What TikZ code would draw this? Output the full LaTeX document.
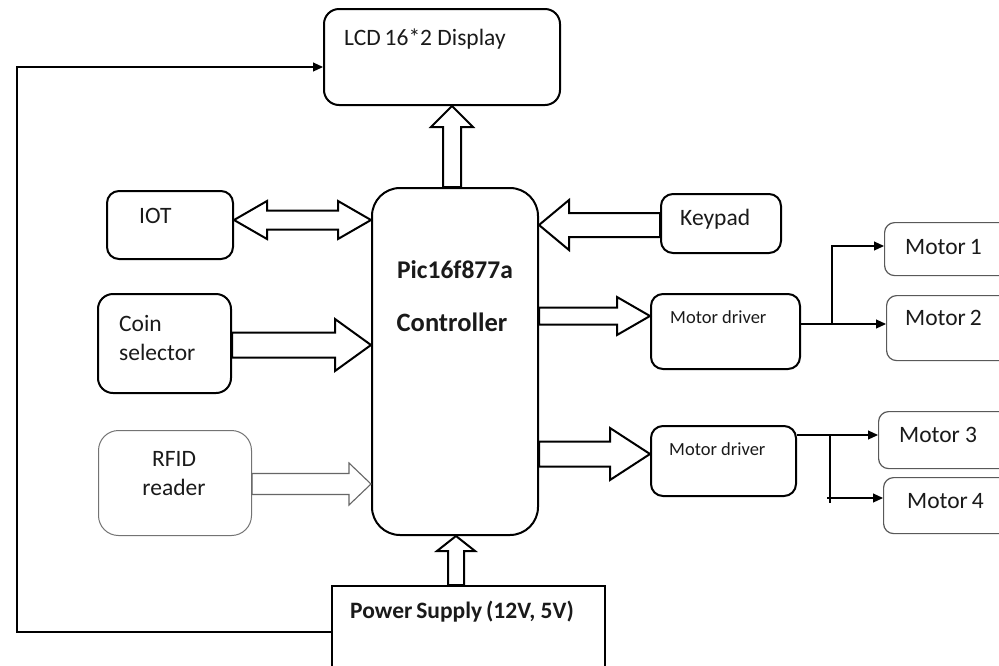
\documentclass[tikz,border=0pt]{standalone}
\usepackage{fontspec}
\setmainfont{Carlito}
\usetikzlibrary{calc,arrows.meta}
\definecolor{txt}{HTML}{1A1A1A}
\tikzset{
  box/.style={draw=black,line width=2pt,rounded corners=#1,inner sep=0pt,anchor=north west},
  box/.default=12pt,
  thinbox/.style={draw=black!65,line width=1.2pt,rounded corners=10pt,inner sep=0pt,anchor=north west},
  rfidbox/.style={draw=black!55,line width=1pt,rounded corners=20pt,inner sep=0pt,anchor=north west},
  lbl/.style={text=txt,inner sep=0pt,font=\fontsize{23.5}{29}\selectfont},
  blbl/.style={text=txt,inner sep=0pt,font=\fontsize{25.5}{29}\selectfont\bfseries},
  slbl/.style={text=txt,inner sep=0pt,font=\fontsize{18.5}{22}\selectfont},
  barrow/.style={draw=black,line width=2pt,line join=miter},
  wire/.style={draw=black,line width=1.1pt},
  wtip/.style={-{Triangle[length=10pt,width=9pt]}}
}
% single block arrow: [style]{start}{end}{shaft half width}{head half width}{head length}
\newcommand\blockarr[6][]{%
  \coordinate (ba-s) at (#2);
  \coordinate (ba-e) at (#3);
  \coordinate (ba-h) at ($(ba-e)!#6!(ba-s)$);
  \draw[barrow,#1] ($(ba-s)!#4!90:(ba-e)$) -- ($(ba-h)!#4!90:(ba-e)$) -- ($(ba-h)!#5!90:(ba-e)$)
    -- (ba-e) -- ($(ba-h)!#5!-90:(ba-e)$) -- ($(ba-h)!#4!-90:(ba-e)$) -- ($(ba-s)!#4!-90:(ba-e)$) -- cycle;
}
% double block arrow
\newcommand\dblockarr[6][]{%
  \coordinate (ba-s) at (#2);
  \coordinate (ba-e) at (#3);
  \coordinate (ba-hs) at ($(ba-s)!#6!(ba-e)$);
  \coordinate (ba-he) at ($(ba-e)!#6!(ba-s)$);
  \draw[barrow,#1] (ba-s) -- ($(ba-hs)!#5!90:(ba-e)$) -- ($(ba-hs)!#4!90:(ba-e)$) -- ($(ba-he)!#4!90:(ba-e)$)
    -- ($(ba-he)!#5!90:(ba-e)$) -- (ba-e) -- ($(ba-he)!#5!-90:(ba-e)$) -- ($(ba-he)!#4!-90:(ba-e)$)
    -- ($(ba-hs)!#4!-90:(ba-e)$) -- ($(ba-hs)!#5!-90:(ba-e)$) -- cycle;
}
\begin{document}
\begin{tikzpicture}[x=1pt,y=-1pt]
\useasboundingbox[fill=white] (0,0) rectangle (999,665);
\clip (0,0) rectangle (999,665);

% boxes
\node[box=15pt,minimum width=236pt,minimum height=96pt] (lcd) at (323,8) {};
\node[box=28pt,minimum width=166pt,minimum height=347pt] (ctrl) at (371,187) {};
\node[box=12pt,minimum width=126pt,minimum height=68pt] (iot) at (106,190) {};
\node[box=12pt,minimum width=120pt,minimum height=59pt] (keypad) at (660,193) {};
\node[box=15pt,minimum width=133pt,minimum height=99pt] (coin) at (97,293) {};
\node[rfidbox,minimum width=153pt,minimum height=105pt] (rfid) at (98,430) {};
\node[box=12pt,minimum width=149pt,minimum height=75pt] (md1) at (650,293) {};
\node[box=12pt,minimum width=145pt,minimum height=70pt] (md2) at (650,425) {};
\node[thinbox,minimum width=130pt,minimum height=53pt] (m1) at (884,222) {};
\node[thinbox,minimum width=130pt,minimum height=65pt] (m2) at (886,295) {};
\node[thinbox,minimum width=135pt,minimum height=57pt] (m3) at (878,411) {};
\node[thinbox,minimum width=130pt,minimum height=56pt] (m4) at (883,477) {};
\node[draw=black,line width=2pt,inner sep=0pt,anchor=north west,minimum width=273pt,minimum height=100pt] (ps) at (331,585) {};

% texts
\node[lbl,anchor=west] (lcdt) at (344,39) {LCD\,16*2 Display};
\node[lbl,anchor=west] (iott) at (139,216) {IOT};
\node[lbl,anchor=west] (keyt) at (680,219) {Keypad};
\node[lbl,anchor=west,align=left] (coint) at (119,337.5) {Coin\\selector};
\node[lbl,align=center] (rfidt) at (174,474) {RFID\\reader};
\node[blbl] (ctrlt1) at (455,270) {Pic16f877a};
\node[blbl,font=\fontsize{26.5}{29}\selectfont\bfseries] (ctrlt2) at (452,322) {Controller};
\node[slbl,anchor=west] (md1t) at (670,317) {Motor driver};
\node[slbl,anchor=west] (md2t) at (669,449) {Motor driver};
\node[lbl,anchor=west] (m1t) at (905,247) {Motor\,1};
\node[lbl,anchor=west] (m2t) at (905,318) {Motor\,2};
\node[lbl,anchor=west] (m3t) at (899,435) {Motor 3};
\node[lbl,anchor=west] (m4t) at (907,501) {Motor\,4};
\node[blbl,anchor=west,font=\fontsize{23.5}{26}\selectfont\bfseries] (pst) at (350,612) {Power\,Supply\,(12V, 5V)};

% block arrows
\blockarr{ctrl.north -| 452,0}{lcd.south -| 452,0}{9pt}{21pt}{21pt}
\dblockarr{iot.east |- 0,220}{ctrl.west |- 0,220}{9.5pt}{19pt}{33pt}
\blockarr{keypad.west |- 0,225}{ctrl.east |- 0,225}{12pt}{25pt}{30pt}
\blockarr{coin.east |- 0,345}{ctrl.west |- 0,345}{12.5pt}{26pt}{36pt}
\blockarr[draw=black!60,line width=1.1pt]{rfid.east |- 0,484}{ctrl.west |- 0,484}{10.5pt}{21pt}{22pt}
\blockarr{ctrl.east |- 0,316}{md1.west |- 0,316}{8.5pt}{19pt}{33pt}
\blockarr{ctrl.east |- 0,454}{md2.west |- 0,454}{12.5pt}{26pt}{40pt}
\blockarr{ps.north -| 456,0}{ctrl.south -| 456,0}{8pt}{19pt}{15pt}

% feedback wire
\coordinate (fbL) at (17,632);
\coordinate (fbT) at (17,67);
\draw[wire,wtip] (ps.west |- fbL) -- (fbL) -- (fbT) -- (lcd.west |- fbT);

% motor wires
\coordinate (j1) at (832,324);
\coordinate (j2) at (830,435);
\coordinate (j3) at (830,503);
\draw[wire,wtip] (md1.east |- j1) -- (m2.west |- j1);
\draw[wire,wtip] (j1) |- (m1.west |- 0,246);
\draw[wire,wtip] (md2.east |- j2) -- (m3.west |- j2);
\draw[wire] (j2) -- (j3);
\draw[wire,wtip] ($(j2 |- 0,498)+(-3,0)$) -- (m4.west |- 0,498);
\end{tikzpicture}
\end{document}
